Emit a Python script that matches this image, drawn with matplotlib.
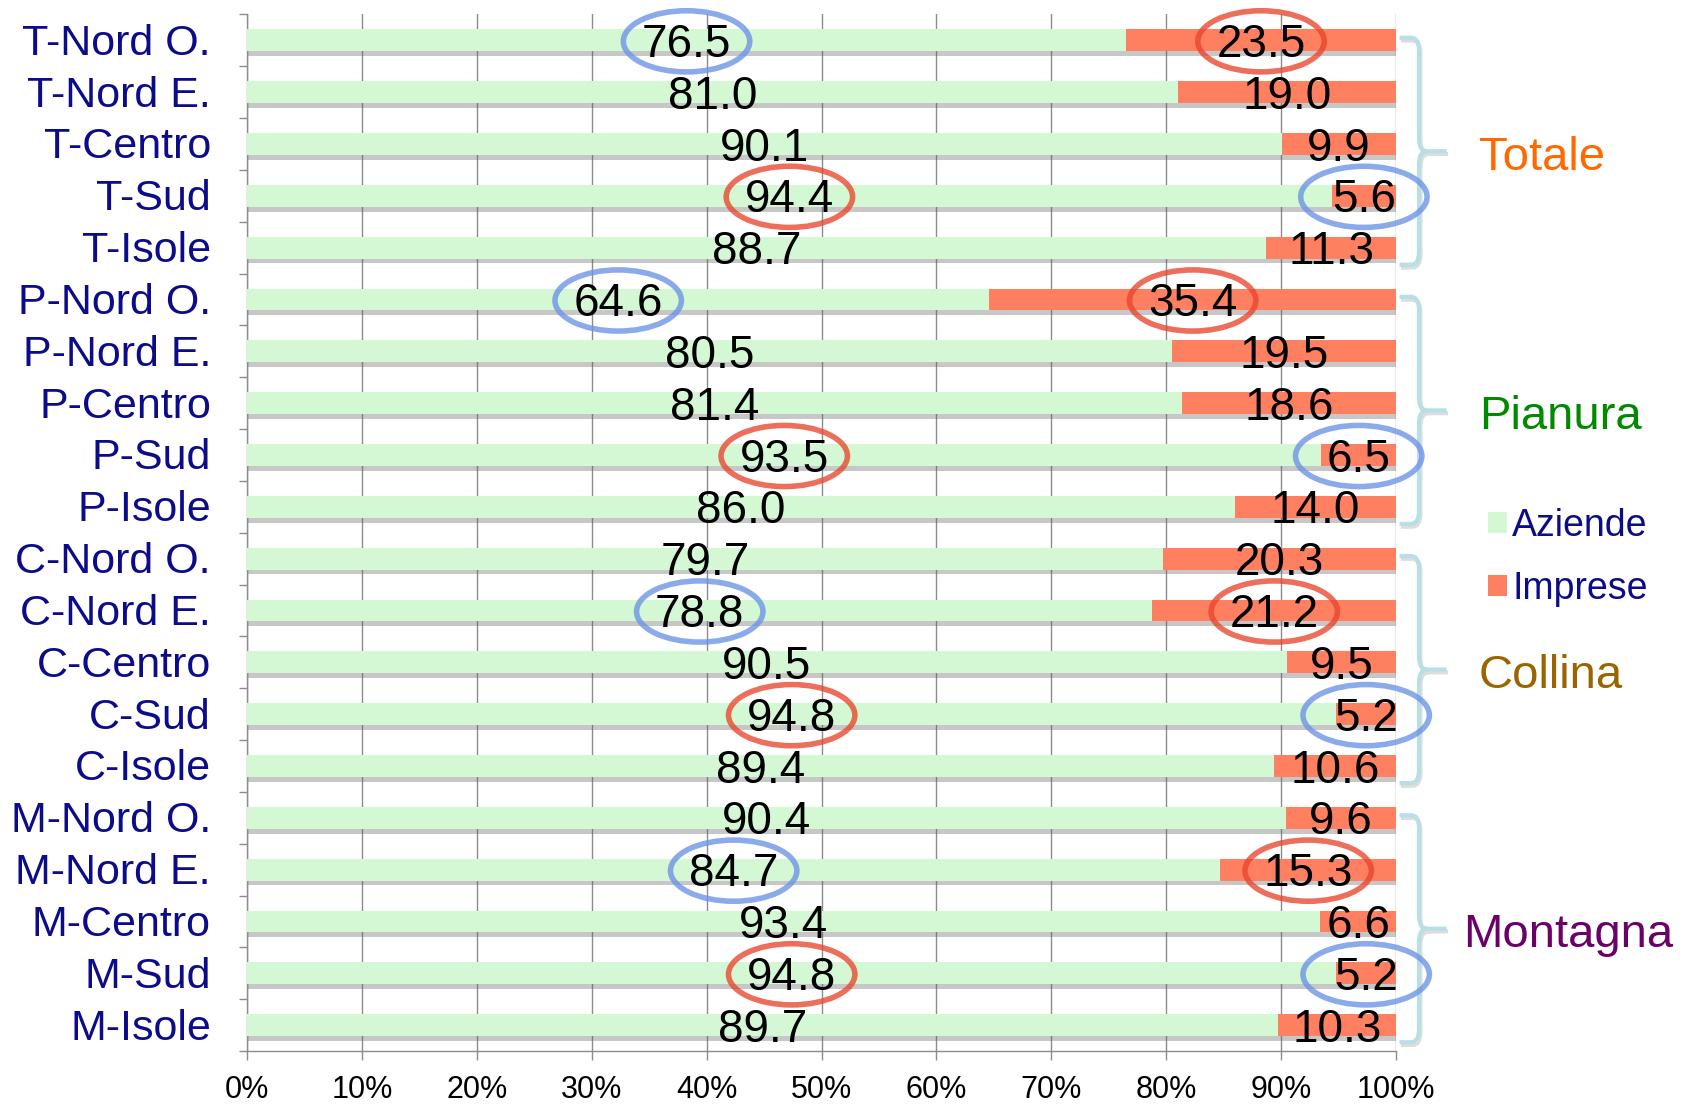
import matplotlib
matplotlib.use("Agg")
import matplotlib.pyplot as plt
from matplotlib.patches import Ellipse, PathPatch, Patch
from matplotlib.path import Path
from matplotlib.transforms import ScaledTranslation
import matplotlib.patheffects as pe

plt.rcParams['font.family'] = ['Liberation Sans', 'DejaVu Sans']

categories = ["T-Nord O.", "T-Nord E.", "T-Centro", "T-Sud", "T-Isole",
              "P-Nord O.", "P-Nord E.", "P-Centro", "P-Sud", "P-Isole",
              "C-Nord O.", "C-Nord E.", "C-Centro", "C-Sud", "C-Isole",
              "M-Nord O.", "M-Nord E.", "M-Centro", "M-Sud", "M-Isole"]
aziende = [76.5, 81.0, 90.1, 94.4, 88.7,
           64.6, 80.5, 81.4, 93.5, 86.0,
           79.7, 78.8, 90.5, 94.8, 89.4,
           90.4, 84.7, 93.4, 94.8, 89.7]
imprese = [23.5, 19.0, 9.9, 5.6, 11.3,
           35.4, 19.5, 18.6, 6.5, 14.0,
           20.3, 21.2, 9.5, 5.2, 10.6,
           9.6, 15.3, 6.6, 5.2, 10.3]
series_names = ["Aziende", "Imprese"]
x_ticks = [0, 10, 20, 30, 40, 50, 60, 70, 80, 90, 100]
x_tick_labels = ["0%", "10%", "20%", "30%", "40%", "50%", "60%", "70%", "80%", "90%", "100%"]
groups = ["Totale", "Pianura", "Collina", "Montagna"]
group_first_row = [0, 5, 10, 15]
group_last_row = [4, 9, 14, 19]
group_colors = ["#ff6a00", "#008a00", "#9a6400", "#6a0068"]
# highlighted labels: (row index, series index)
blue_marks = [(0, 0), (3, 1), (5, 0), (8, 1), (11, 0), (13, 1), (16, 0), (18, 1)]
red_marks = [(0, 1), (3, 0), (5, 1), (8, 0), (11, 1), (13, 0), (16, 1), (18, 0)]

green = "#d4f8d4"
coral = "#ff7f61"
navy = "#0c0c8a"
gridc = "#8c8c8c"

fig = plt.figure(figsize=(16.83, 11.06), dpi=100)
ax = fig.add_axes([0.1468, 0.0497, 0.6827, 0.9373])

rows = list(range(len(categories)))
shadow = [pe.SimplePatchShadow(offset=(0.5, -3.5), shadow_rgbFace="#606060", alpha=0.35), pe.Normal()]
b1 = ax.barh(rows, aziende, height=0.42, color=green, zorder=3)
b2 = ax.barh(rows, imprese, left=aziende, height=0.42, color=coral, zorder=3)
for p in list(b1) + list(b2):
    p.set_path_effects(shadow)

ax.set_xlim(0, 100)
ax.set_ylim(len(categories) - 0.5, -0.5)

ax.set_xticks(x_ticks)
ax.set_xticklabels(x_tick_labels, fontsize=22)
ax.tick_params(axis='x', direction='out', length=6.5, width=1, color=gridc, pad=11)

ax.set_yticks(rows)
ax.set_yticklabels(categories, fontsize=31, color=navy, va='center')
ax.tick_params(axis='y', which='major', length=0, pad=26)
ax.set_yticks([r + 0.5 for r in [-1] + rows], minor=True)
ax.tick_params(axis='y', which='minor', direction='out', length=6, width=1, color=gridc)
shift = ScaledTranslation(0, -2.5 / 72, fig.dpi_scale_trans)
for lab in ax.get_yticklabels():
    lab.set_transform(lab.get_transform() + shift)

ax.grid(axis='x', color=gridc, linewidth=1.0, zorder=0)
ax.set_axisbelow(True)
for s in ["top", "right"]:
    ax.spines[s].set_visible(False)
for s in ["left", "bottom"]:
    ax.spines[s].set_color(gridc)
    ax.spines[s].set_linewidth(1.0)

# value labels
label_pos = {}
for i in rows:
    xa = aziende[i] / 2
    xi = aziende[i] + imprese[i] / 2
    label_pos[(i, 0)] = xa
    label_pos[(i, 1)] = xi
    ax.text(xa, i + 0.32, f"{aziende[i]:.1f}", ha='center', va='baseline', fontsize=33, color='black', zorder=5)
    ax.text(xi, i + 0.32, f"{imprese[i]:.1f}", ha='center', va='baseline', fontsize=33, color='black', zorder=5)

# ellipses
for marks, col in [(blue_marks, "#6b92e6"), (red_marks, "#e8452c")]:
    for (r, s) in marks:
        e = Ellipse((label_pos[(r, s)], r + 0.02), width=11.0, height=1.18, fill=False,
                    edgecolor=col, linewidth=4.0, alpha=0.78, zorder=6, clip_on=False)
        ax.add_patch(e)

# braces
bc = "#b9dfe6"
for g, r0, r1, gc in zip(groups, group_first_row, group_last_row, group_colors):
    t = r0 - 0.05
    b = r1 + 0.33
    m = (t + b) / 2
    xs, xv, xc, xt = 100.3, 102.0, 102.7, 104.4
    verts = [(xs, t), (101.3, t), (xv, t), (xv, t + 0.25), (xv, m - 0.25), (xv, m), (xc, m), (xt, m),
             (xc, m), (xv, m), (xv, m + 0.25), (xv, b - 0.25), (xv, b), (101.3, b), (xs, b)]
    codes = [Path.MOVETO, Path.LINETO, Path.CURVE3, Path.CURVE3, Path.LINETO, Path.CURVE3, Path.CURVE3, Path.LINETO,
             Path.MOVETO, Path.CURVE3, Path.CURVE3, Path.LINETO, Path.CURVE3, Path.CURVE3, Path.LINETO]
    pp = PathPatch(Path(verts, codes), fill=False, edgecolor=bc, linewidth=3.0, clip_on=False, zorder=4,
                   path_effects=[pe.SimpleLineShadow(offset=(1, -2), shadow_color="#909090", alpha=0.3), pe.Normal()])
    ax.add_patch(pp)
    gx = 105.8 if g == "Montagna" else 107.2
    ax.text(gx, (r0 + r1) / 2 + 0.5, g, ha='left', va='baseline', fontsize=34, color=gc, clip_on=False)

handles = [Patch(facecolor=green, edgecolor='none'), Patch(facecolor=coral, edgecolor='none')]
leg = ax.legend(handles=handles, labels=series_names, loc='center left', bbox_to_anchor=(1.067, 0.476),
                frameon=False, fontsize=27, handlelength=0.5, handleheight=0.5, handletextpad=0.15,
                labelspacing=0.72, borderaxespad=0)
for t in leg.get_texts():
    t.set_color(navy)

fig.savefig("out.png", dpi=100)
